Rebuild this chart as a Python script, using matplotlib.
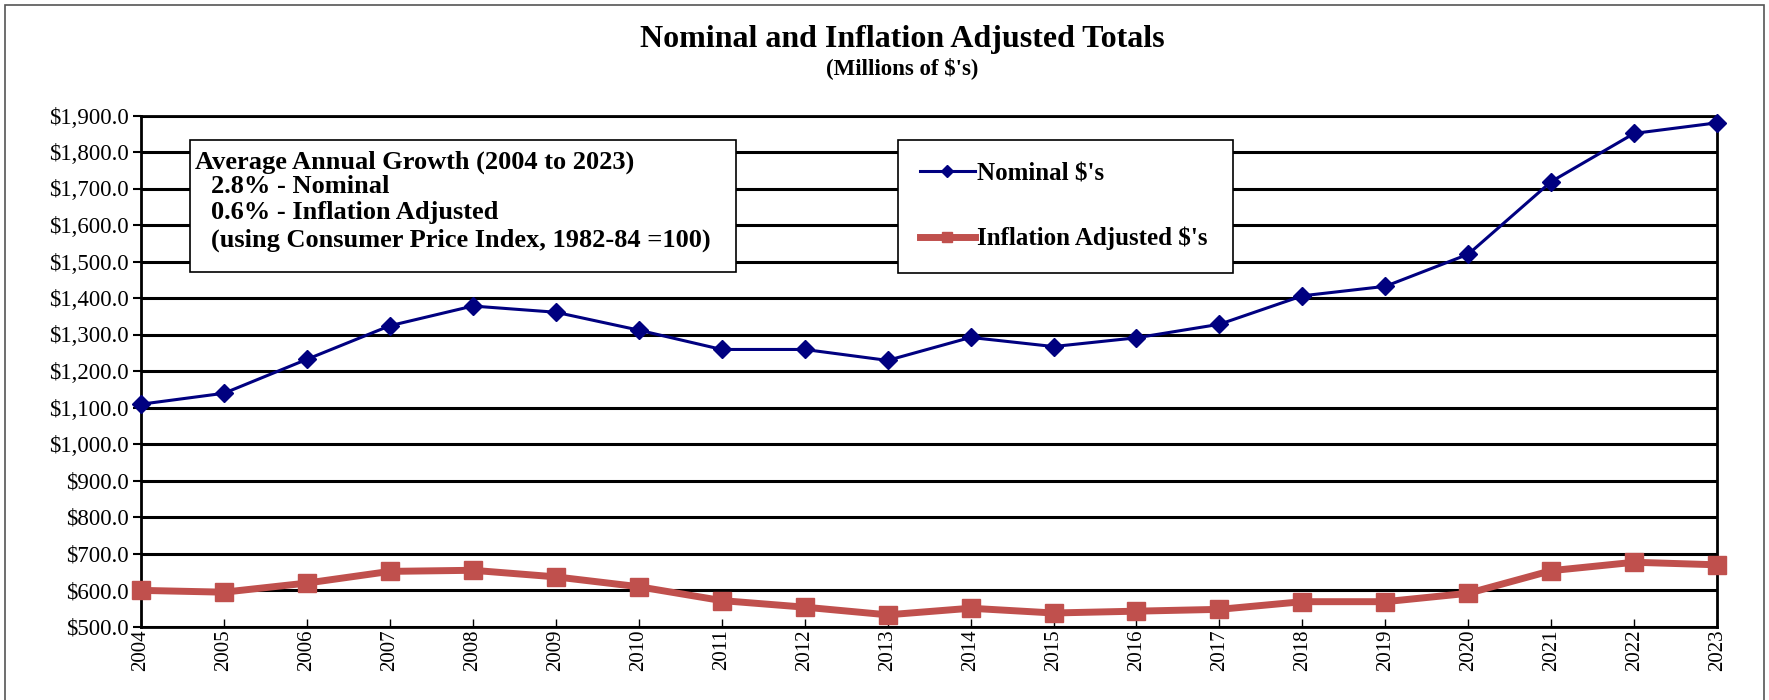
import matplotlib
matplotlib.use("Agg")
import matplotlib.pyplot as plt
from matplotlib.patches import Rectangle
from matplotlib.ticker import FuncFormatter

years = list(range(2004, 2024))
nominal = [1109, 1139, 1232, 1324, 1378, 1361, 1312, 1259, 1259, 1229,
           1292, 1267, 1291, 1328, 1406, 1432, 1520, 1719, 1851, 1880]
adjusted = [599, 594, 619, 651, 654, 636, 609, 571, 553, 532,
            550, 537, 542, 547, 568, 568, 591, 653, 676, 669]

note_lines = ["Average Annual Growth (2004 to 2023)",
              "2.8% - Nominal",
              "0.6% - Inflation Adjusted",
              "(using Consumer Price Index, 1982-84 =100)"]

plt.rcParams['font.family'] = ['Liberation Serif', 'DejaVu Serif']

fig = plt.figure(figsize=(17.69, 7.0), dpi=100)
ax = fig.add_axes([0.0797, 0.105, 0.891, 0.730])

# outer frame
fig.patches.append(Rectangle((0.003, -0.1), 0.994, 1.093, transform=fig.transFigure,
                             fill=False, edgecolor='#555555', linewidth=1.2))

ln1, = ax.plot(years, nominal, color='#000080', lw=2.2, marker='D', markersize=9.5,
               label="Nominal $'s", zorder=4, clip_on=False)
ln2, = ax.plot(years, adjusted, color='#C0504D', lw=5, marker='s', markersize=13,
               label="Inflation Adjusted $'s", zorder=3, clip_on=False)

ax.set_xlim(2004, 2023)
ax.set_ylim(500, 1900)
ax.set_yticks(range(500, 2000, 100))
ax.set_xticks(years)
ax.set_xticklabels([str(y) for y in years], rotation=90, fontsize=15)
ax.yaxis.set_major_formatter(FuncFormatter(lambda v, p: "${:,.1f}".format(v)))
ax.tick_params(axis='y', labelsize=16.5, length=6, width=1.5, direction='out', pad=3)
ax.tick_params(axis='x', length=6, width=1, direction='in', pad=2)
ax.grid(axis='y', color='black', linewidth=2.2)
ax.set_axisbelow(True)
for s in ax.spines.values():
    s.set_linewidth(2)
    s.set_color('black')

fig.text(0.51, 0.943, "Nominal and Inflation Adjusted Totals", ha='center', va='center',
         fontsize=23, fontweight='bold')
fig.text(0.51, 0.903, "(Millions of $'s)", ha='center', va='center',
         fontsize=16.5, fontweight='bold')

# growth note box
fig.patches.append(Rectangle((0.1074, 0.611), 0.3087, 0.189, transform=fig.transFigure,
                             facecolor='white', edgecolor='black', linewidth=1.2, zorder=5))
ys = [0.768, 0.734, 0.697, 0.657]
xs = [0.1103, 0.1193, 0.1193, 0.1193]
for t, x, y in zip(note_lines, xs, ys):
    fig.text(x, y, t, ha='left', va='center', fontsize=19, fontweight='bold', zorder=6)

leg = ax.legend(handles=[ln1, ln2], loc='upper left',
                bbox_to_anchor=(0.5076, 0.613, 0.1894, 0.187), mode='expand',
                bbox_transform=fig.transFigure, frameon=True, fancybox=False,
                edgecolor='black', framealpha=1, prop={'weight': 'bold', 'size': 18},
                labelspacing=1.68, borderpad=0.88, handlelength=2.2, handletextpad=0.1,
                borderaxespad=0, markerscale=0.6)
leg.get_frame().set_linewidth(1.2)
leg.set_zorder(10)

fig.savefig("out.png", dpi=100)
